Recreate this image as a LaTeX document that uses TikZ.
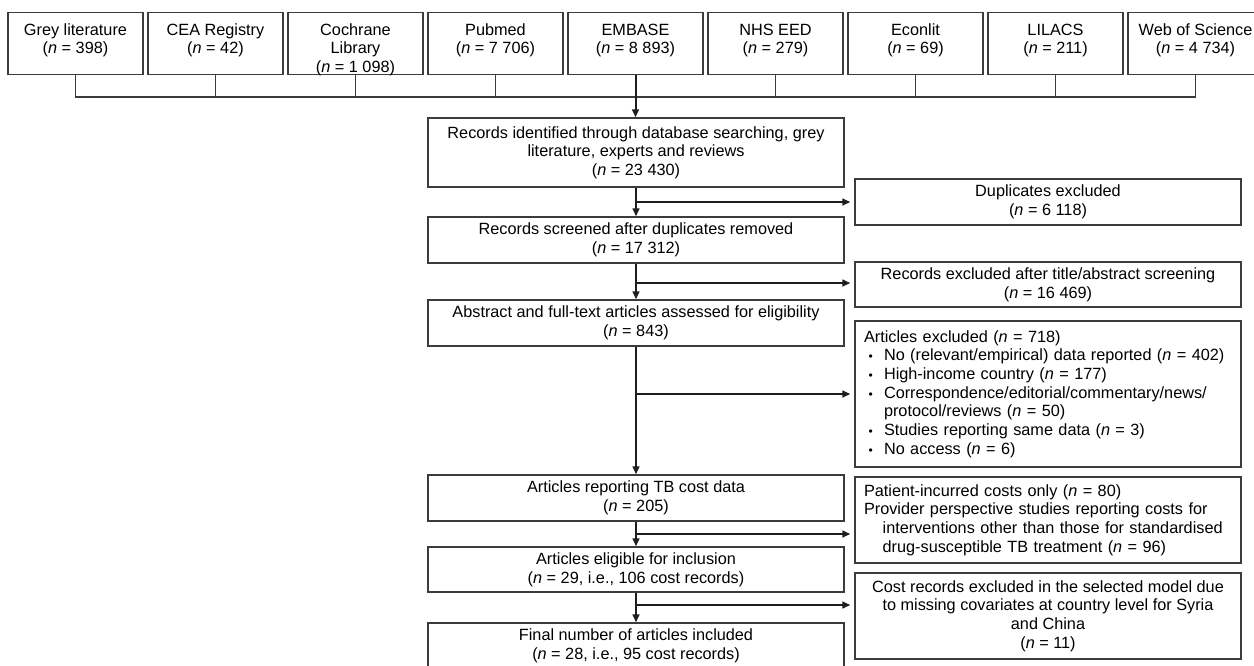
\documentclass[tikz,border=0pt]{standalone}
\usepackage{fontspec}
\setmainfont{Liberation Sans}
\usetikzlibrary{arrows.meta}

\newcommand{\nval}{\textit{n}}
\newcommand{\dbtext}[1]{\parbox[c][46.5pt][t]{101.25pt}{\centering\rule{0pt}{16.8pt}#1}}
\newcommand{\blt}{\makebox[15pt][l]{\hspace{3.5pt}{\small\textbullet}}}

\begin{document}
\begin{tikzpicture}[
	x=0.75pt, y=-0.75pt,
	font=\fontsize{12.2}{14}\selectfont,
	>={Triangle[length=6pt,width=5pt]},
	line join=miter
	]
	% colours
	\definecolor{boxLine}{HTML}{3C3C3C}
	\definecolor{arrLine}{HTML}{1E1E1E}
	
	% node styles
	\tikzset{
		dbbox/.style={draw=boxLine, line width=0.9pt, inner sep=0pt},
		mbox/.style={draw=boxLine, line width=0.9pt, minimum width=312pt,
			align=center, inner sep=2pt},
		xbox/.style={draw=boxLine, line width=0.9pt, minimum width=289.5pt,
			align=center, inner sep=2pt},
		xlist/.style={xbox, align=left, text width=276pt, inner xsep=6.75pt},
		flow/.style={->, draw=arrLine, line width=1.5pt},
		bus/.style={draw=boxLine, line width=1pt}
	}
	
	\useasboundingbox (0,0) rectangle (1254,665);
	
	% ===== databases =====
	\node[dbbox] (grey)     at (75.5,43.7)   {\dbtext{Grey literature\\(\nval{} = 398)}};
	\node[dbbox] (cea)      at (215.5,43.7)  {\dbtext{CEA Registry\\(\nval{} = 42)}};
	\node[dbbox] (cochrane) at (355.5,43.7)  {\dbtext{Cochrane\\Library\\(\nval{} = 1 098)}};
	\node[dbbox] (pubmed)   at (495.5,43.7)  {\dbtext{Pubmed\\(\nval{} = 7 706)}};
	\node[dbbox] (embase)   at (635.5,43.7)  {\dbtext{EMBASE\\(\nval{} = 8 893)}};
	\node[dbbox] (nhseed)   at (775.5,43.7)  {\dbtext{NHS EED\\(\nval{} = 279)}};
	\node[dbbox] (econlit)  at (915.5,43.7)  {\dbtext{Econlit\\(\nval{} = 69)}};
	\node[dbbox] (lilacs)   at (1055.5,43.7) {\dbtext{LILACS\\(\nval{} = 211)}};
	\node[dbbox] (wos)      at (1195.5,43.7) {\dbtext{Web of Science\\(\nval{} = 4 734)}};
	
	% ===== main column =====
	\node[mbox, minimum height=51.75pt] (ident) at (636,152.5)
	{Records identified through database searching, grey\\literature, experts and reviews\\(\nval{} = 23 430)};
	\node[mbox, minimum height=34.5pt] (screen) at (636,240)
	{Records screened after duplicates removed\\(\nval{} = 17 312)};
	\node[mbox, minimum height=34.5pt] (assess) at (636,323)
	{Abstract and full-text articles assessed for eligibility\\(\nval{} = 843)};
	\node[mbox, minimum height=34.5pt] (costdata) at (636,498)
	{Articles reporting TB cost data\\(\nval{} = 205)};
	\node[mbox, minimum height=33.75pt] (eligible) at (636,569.5)
	{Articles eligible for inclusion\\(\nval{} = 29, i.e., 106 cost records)};
	\node[mbox, minimum height=34.5pt] (final) at (636,646)
	{Final number of articles included\\(\nval{} = 28, i.e., 95 cost records)};
	
	% ===== exclusions =====
	\node[xbox, minimum height=34.5pt] (dupl) at (1048,202)
	{Duplicates excluded\\(\nval{} = 6 118)};
	\node[xbox, minimum height=33.75pt] (titleexcl) at (1048,284.5)
	{Records excluded after title/abstract screening\\(\nval{} = 16 469)};
	\node[xlist, minimum height=109.5pt] (fullexcl) at (1048,394)
	{Articles excluded (\nval{} = 718)\\
		\blt No (relevant/empirical) data reported (\nval{} = 402)\\
		\blt High-income country (\nval{} = 177)\\
		\blt Correspondence/editorial/commentary/news/\\
		\hspace*{15pt}protocol/reviews (\nval{} = 50)\\
		\blt Studies reporting same data (\nval{} = 3)\\
		\blt No access (\nval{} = 6)};
	\node[xlist, minimum height=64.5pt] (costexcl) at (1048,520)
	{Patient-incurred costs only (\nval{} = 80)\\
		Provider perspective studies reporting costs for\\
		\hspace*{14pt}interventions other than those for standardised\\
		\hspace*{14pt}drug-susceptible TB treatment (\nval{} = 96)};
	\node[xbox, minimum height=64.5pt] (modelexcl) at (1048,616)
	{Cost records excluded in the selected model due\\to missing covariates at country level for Syria\\and China\\(\nval{} = 11)};
	
	% ===== database bus =====
	\coordinate (bus) at (0,97);
	\draw[bus] (grey.south) -- (grey.south |- bus) -- (wos.south |- bus) -- (wos.south);
	\draw[bus] (cea.south) -- (cea.south |- bus);
	\draw[bus] (cochrane.south) -- (cochrane.south |- bus);
	\draw[bus] (pubmed.south) -- (pubmed.south |- bus);
	\draw[bus] (nhseed.south) -- (nhseed.south |- bus);
	\draw[bus] (econlit.south) -- (econlit.south |- bus);
	\draw[bus] (lilacs.south) -- (lilacs.south |- bus);
	\draw[flow] (embase.south) -- (embase.south |- ident.north);
	
	% ===== main arrows =====
	\draw[flow] (ident.south) -- (screen.north);
	\draw[flow] (screen.south) -- (assess.north);
	\draw[flow] (assess.south) -- (costdata.north);
	\draw[flow] (costdata.south) -- (eligible.north);
	\draw[flow] (eligible.south) -- (final.north);
	
	% ===== branches =====
	\coordinate (j1) at (636,202);
	\coordinate (j2) at (636,283);
	\coordinate (j3) at (636,394);
	\coordinate (j4) at (636,534);
	\coordinate (j5) at (636,605);
	\draw[flow, shorten >=3pt] (j1) -- (j1 -| dupl.west);
	\draw[flow, shorten >=3pt] (j2) -- (j2 -| titleexcl.west);
	\draw[flow, shorten >=3pt] (j3) -- (j3 -| fullexcl.west);
	\draw[flow, shorten >=3pt] (j4) -- (j4 -| costexcl.west);
	\draw[flow, shorten >=3pt] (j5) -- (j5 -| modelexcl.west);
	
\end{tikzpicture}
\end{document}
